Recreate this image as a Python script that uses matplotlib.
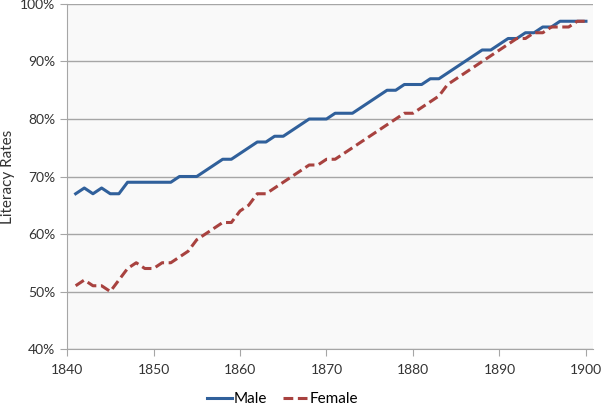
import matplotlib.pyplot as plt
from matplotlib.ticker import FuncFormatter

# literacy rates by year
years = list(range(1841, 1901))
male = [67, 68, 67, 68, 67, 67, 69, 69, 69, 69,
        69, 69, 70, 70, 70, 71, 72, 73, 73, 74,
        75, 76, 76, 77, 77, 78, 79, 80, 80, 80,
        81, 81, 81, 82, 83, 84, 85, 85, 86, 86,
        86, 87, 87, 88, 89, 90, 91, 92, 92, 93,
        94, 94, 95, 95, 96, 96, 97, 97, 97, 97]
female = [51, 52, 51, 51, 50, 52, 54, 55, 54, 54,
          55, 55, 56, 57, 59, 60, 61, 62, 62, 64,
          65, 67, 67, 68, 69, 70, 71, 72, 72, 73,
          73, 74, 75, 76, 77, 78, 79, 80, 81, 81,
          82, 83, 84, 86, 87, 88, 89, 90, 91, 92,
          93, 94, 94, 95, 95, 96, 96, 96, 97, 97]

plt.rcParams['font.family'] = ['Lato', 'DejaVu Sans']

fig = plt.figure(figsize=(6.01, 4.08), dpi=100)
ax = fig.add_axes([0.1115, 0.1446, 0.875, 0.8456])
ax.set_facecolor('#f9f9f9')

ax.plot(years, male, color='#30609b', lw=2.2, label='Male')
ax.plot(years, female, color='#a8423f', lw=2.2, label='Female', dashes=(3.2, 1.5))

ax.set_xlim(1840, 1900.8)
ax.set_ylim(40, 100)
ax.set_xticks(range(1840, 1901, 10))
ax.set_yticks(range(40, 101, 10))
ax.yaxis.set_major_formatter(FuncFormatter(lambda v, p: f'{v:.0f}%'))
ax.grid(axis='y', color='#a6a6a6', lw=1.0)
ax.set_axisbelow(True)

for s in ['top', 'right']:
    ax.spines[s].set_visible(False)
for s in ['left', 'bottom']:
    ax.spines[s].set_color('#a6a6a6')
ax.tick_params(colors='#a6a6a6', labelcolor='#333333', labelsize=10, length=5)
ax.tick_params(axis='x', pad=6)

ax.set_ylabel('Literacy Rates', fontsize=11, color='#333333')
ax.yaxis.set_label_coords(-0.098, 0.5)

ax.legend(loc='upper center', bbox_to_anchor=(0.41, -0.085), ncol=2, frameon=False,
          fontsize=11, handlelength=1.6, handletextpad=0.15, columnspacing=1.0)

fig.savefig('out.png', dpi=100)
